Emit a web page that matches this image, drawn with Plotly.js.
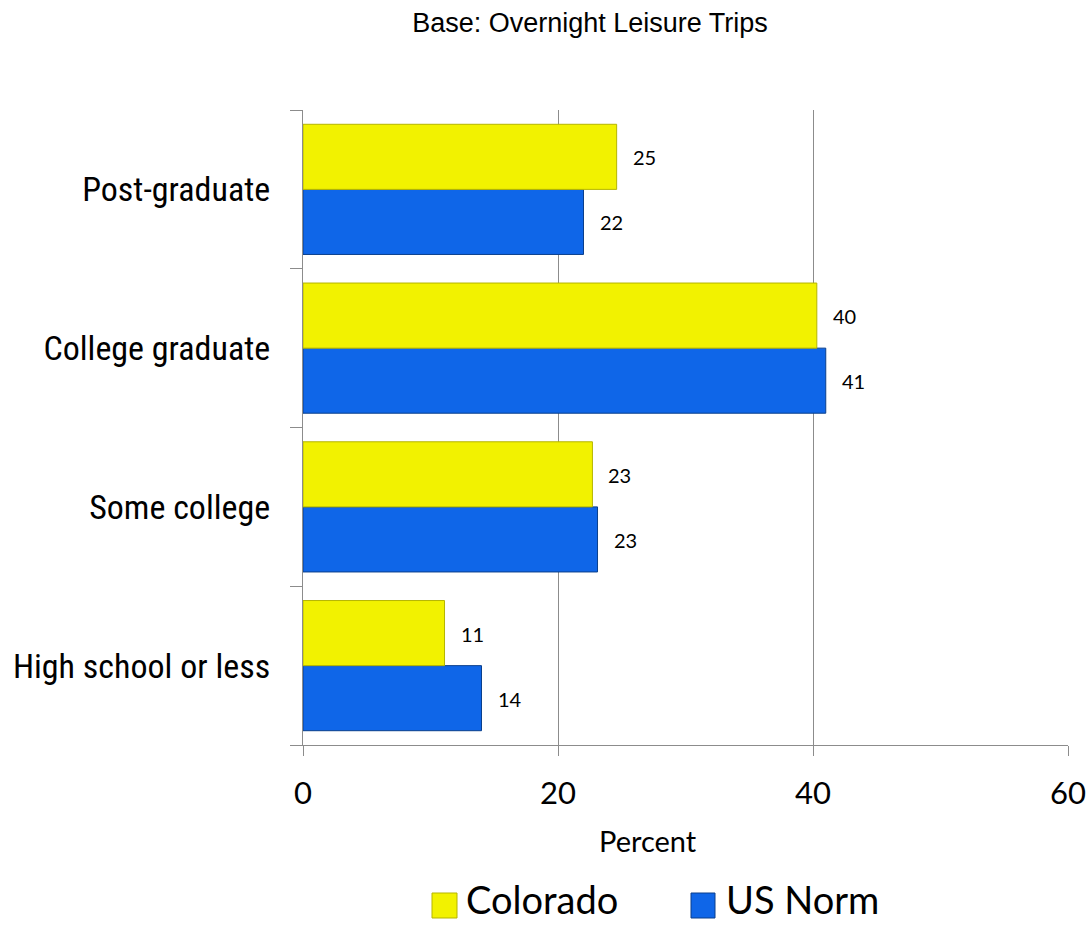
<!DOCTYPE html>
<html>
<head>
<meta charset="utf-8">
<script src="https://cdn.plot.ly/plotly-3.0.1.min.js"></script>
<style>html,body{margin:0;padding:0;background:#fff;}#chart{width:1092px;height:925px;}</style>
</head>
<body>
<div id="chart"></div>
<script>
const categories = ['High school or less', 'Some college', 'College graduate', 'Post-graduate'];
const colorado = [11.1, 22.7, 40.3, 24.6];
const usNorm = [14.0, 23.1, 41.0, 22.0];
const seriesNames = ['Colorado', 'US Norm'];
const xTicks = [0, 20, 40, 60];
const chartTitle = 'Base: Overnight Leisure Trips';
const xTitle = 'Percent';

const yellow = '#f2f200', blue = '#0f66e8';
const calib = 'Lato, "Open Sans", sans-serif';
const labelFont = {family: calib, size: 20, color: '#000'};

const traces = [
  {type: 'bar', orientation: 'h', name: seriesNames[1], y: categories, x: usNorm,
   marker: {color: blue, line: {color: '#0a3f8c', width: 1}}, hoverinfo: 'x'},
  {type: 'bar', orientation: 'h', name: seriesNames[0], y: categories, x: colorado,
   marker: {color: yellow, line: {color: '#b5b500', width: 1}}, hoverinfo: 'x'}
];

function pxX(p){return (p-303)/765;}
function pxY(p){return (745-p)/635;}

const annotations = [];
// value labels (derived from data arrays)
categories.forEach((c, i) => {
  annotations.push({x: colorado[i], y: c, yref: 'y', xref: 'x', text: String(Math.round(colorado[i])),
    showarrow: false, xanchor: 'left', xshift: 14, yshift: 32, font: labelFont});
  annotations.push({x: usNorm[i], y: c, yref: 'y', xref: 'x', text: String(Math.round(usNorm[i])),
    showarrow: false, xanchor: 'left', xshift: 14, yshift: -33, font: labelFont});
});
annotations.push({xref: 'paper', yref: 'paper', x: pxX(648), y: pxY(840), text: xTitle,
  showarrow: false, xanchor: 'center', yanchor: 'middle', font: {family: calib, size: 29, color: '#000'}});
// custom legend
const legFont = {family: calib, size: 38, color: '#000'};
annotations.push({xref: 'paper', yref: 'paper', x: pxX(464), y: pxY(924), text: seriesNames[0],
  showarrow: false, xanchor: 'left', yanchor: 'bottom', font: legFont});
annotations.push({xref: 'paper', yref: 'paper', x: pxX(724), y: pxY(924), text: seriesNames[1],
  showarrow: false, xanchor: 'left', yanchor: 'bottom', font: legFont});

const shapes = [
  {type: 'rect', xref: 'paper', yref: 'paper', x0: pxX(432), x1: pxX(457), y0: pxY(918), y1: pxY(893),
   fillcolor: yellow, line: {color: '#b5b500', width: 1}},
  {type: 'rect', xref: 'paper', yref: 'paper', x0: pxX(691), x1: pxX(715), y0: pxY(918), y1: pxY(893),
   fillcolor: blue, line: {color: '#0a3f8c', width: 1}}
];

const layout = {
  width: 1092, height: 925,
  margin: {l: 303, r: 24, t: 110, b: 180},
  paper_bgcolor: '#fff', plot_bgcolor: '#fff',
  showlegend: false,
  barmode: 'group', bargap: 0.18, bargroupgap: 0,
  title: {text: chartTitle, x: 590/1092, xanchor: 'center', y: 1 - 23/925, yanchor: 'middle',
    font: {family: 'Arial, "Liberation Sans", sans-serif', size: 27, color: '#000'}},
  xaxis: {range: [0, 60], tickvals: xTicks, ticktext: xTicks.map(String),
    showgrid: true, gridcolor: '#8c8c8c', gridwidth: 1, zeroline: false,
    showline: true, linecolor: '#8c8c8c', linewidth: 1,
    ticks: 'outside', ticklen: 10, tickcolor: '#8c8c8c', ticklabelstandoff: 11,
    tickfont: {family: calib, size: 31, color: '#000'},
    fixedrange: true},
  yaxis: {type: 'category', categoryorder: 'array', categoryarray: categories,
    showgrid: false, zeroline: false,
    showline: true, linecolor: '#8c8c8c', linewidth: 1,
    ticks: 'outside', ticklen: 12, tickcolor: '#8c8c8c', tickson: 'boundaries',
    ticklabelstandoff: 25,
    tickfont: {family: '"Liberation Sans Narrow", "Arial Narrow", "Roboto Condensed", Arial, sans-serif', size: 34, color: '#000'},
    fixedrange: true},
  annotations: annotations,
  shapes: shapes
};

Plotly.newPlot('chart', traces, layout, {displayModeBar: false, staticPlot: true});
</script>
</body>
</html>
